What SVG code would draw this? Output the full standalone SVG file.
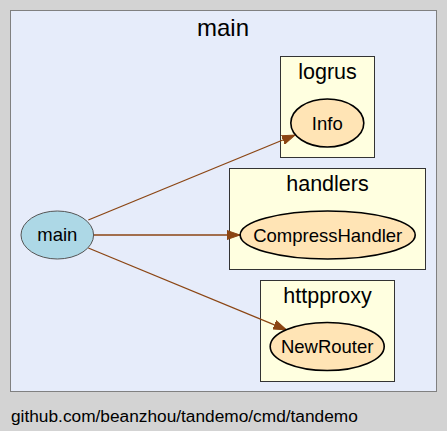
<svg xmlns="http://www.w3.org/2000/svg" width="447" height="431" viewBox="0 0 447 431">
<style>
text{font-family:"Liberation Sans",Arial,sans-serif;fill:#000;text-anchor:middle}
.cl{fill:#ffffe0;stroke:#333;stroke-width:1}
.fn{fill:#ffe4b5;stroke:#000;stroke-width:1.6}
.cll{font-size:21.5px}
.nl{font-size:18.5px}
.e{stroke:#8b4513;stroke-width:1.3;fill:none}
</style>
<defs>
<marker id="ah" markerUnits="userSpaceOnUse" markerWidth="14" markerHeight="10" refX="13" refY="5" orient="auto" viewBox="0 0 14 10">
<path d="M0,0.5 L13,5 L0,9.5 Z" fill="#8b4513" stroke="#8b4513" stroke-width="1"/>
</marker>
</defs>
<rect x="0" y="0" width="447" height="431" fill="#d3d3d3"/>
<g id="cluster_main">
<rect x="10.5" y="10.5" width="426" height="381" fill="#e6ecfa" stroke="#808080" stroke-width="1"/>
<text x="223" y="36" style="font-size:24px">main</text>
</g>
<g id="cluster_logrus">
<rect class="cl" x="280.5" y="56.5" width="94" height="101"/>
<text class="cll" x="327.5" y="79.3">logrus</text>
</g>
<g id="cluster_handlers">
<rect class="cl" x="229.5" y="168.5" width="196" height="101"/>
<text class="cll" x="327.5" y="190.7">handlers</text>
</g>
<g id="cluster_httpproxy">
<rect class="cl" x="260.5" y="280.5" width="134" height="101"/>
<text class="cll" x="327.5" y="303.3">httpproxy</text>
</g>
<g id="connectors">
<path class="e" d="M88.3,220 L295,135" marker-end="url(#ah)"/>
<path class="e" d="M93.7,235 L240,235" marker-end="url(#ah)"/>
<path class="e" d="M88.3,248 L286.5,329.8" marker-end="url(#ah)"/>
</g>
<g id="node_main">
<ellipse cx="57.3" cy="235" rx="36.3" ry="24" fill="#add8e6" stroke="#555" stroke-width="1"/>
<text class="nl" x="57.3" y="241.2">main</text>
</g>
<g id="node_Info">
<ellipse class="fn" cx="327.3" cy="123" rx="36.5" ry="24"/>
<text class="nl" x="327.3" y="129.5">Info</text>
</g>
<g id="node_CompressHandler">
<ellipse class="fn" cx="327.7" cy="235" rx="87.5" ry="24"/>
<text class="nl" x="327.7" y="241.7">CompressHandler</text>
</g>
<g id="node_NewRouter">
<ellipse class="fn" cx="327.2" cy="346.5" rx="57" ry="24"/>
<text class="nl" x="327.2" y="352.6">NewRouter</text>
</g>
<text x="11" y="421.5" style="font-size:17.3px;text-anchor:start">github.com/beanzhou/tandemo/cmd/tandemo</text>
</svg>
